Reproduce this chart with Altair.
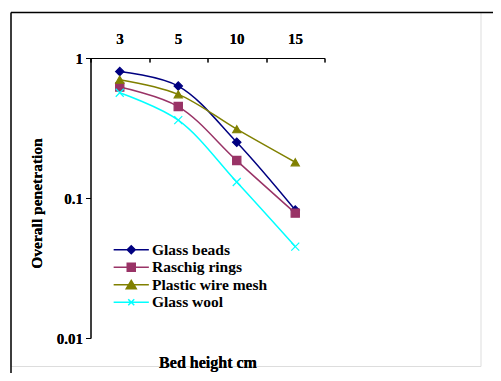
import altair as alt
import pandas as pd

heights = ["3", "5", "10", "15"]
series = ["Glass beads", "Raschig rings", "Plastic wire mesh", "Glass wool"]
glass_beads = [0.80, 0.63, 0.25, 0.082]
raschig_rings = [0.62, 0.45, 0.185, 0.078]
plastic_wire_mesh = [0.70, 0.55, 0.31, 0.18]
glass_wool = [0.565, 0.36, 0.13, 0.045]

colors = ["#000080", "#993366", "#808000", "#00FFFF"]
marker_shapes = ["diamond", "square", "triangle-up", "M-1,-1L1,1M-1,1L1,-1"]
marker_sizes = [70, 64, 100, 40]
legend_shapes = [
    "M-4.4,0L4.4,0M0,-1L1,0L0,1L-1,0Z",
    "M-4.4,0L4.4,0M-1,-1L1,-1L1,1L-1,1Z",
    "M-4.4,0L4.4,0M0,-1.1L1.25,1L-1.25,1Z",
    "M-4.4,0L4.4,0M-0.75,-0.75L0.75,0.75M-0.75,0.75L0.75,-0.75",
]

rows = []
for s, vals in zip(series, [glass_beads, raschig_rings, plastic_wire_mesh, glass_wool]):
    for i, (h, v) in enumerate(zip(heights, vals)):
        rows.append({"series": s, "lg": s, "pos": i + 0.5, "height": h, "value": v})
df = pd.DataFrame(rows)

FONT = "Liberation Serif"
W, H = 470, 354
label_expr = "[" + ",".join("'%s'" % h for h in heights) + ",''][datum.value]"

x_enc = alt.X(
    "pos:Q",
    scale=alt.Scale(domain=[0, len(heights)], range=[80, 314], nice=False, zero=False),
    axis=alt.Axis(
        orient="bottom", offset=46 - H, values=list(range(len(heights) + 1)),
        labelExpr=label_expr, labelOffset=29, labelBaseline="middle",
        labelPadding=-24, tickSize=4, labelOverlap=False, labelFlush=False,
        grid=False, domainColor="black", tickColor="black",
        labelFont=FONT, labelFontWeight="bold", labelFontSize=15, labelColor="black",
        title="Bed height cm", titleFont=FONT, titleFontWeight="bold", titleFontSize=16,
        titleColor="black", titleX=197, titleY=304, titleBaseline="middle",
        titleAlign="center",
    ),
)
y_enc = alt.Y(
    "value:Q",
    scale=alt.Scale(type="log", domain=[0.01, 1], range=[326, 46], nice=False),
    axis=alt.Axis(
        orient="left", offset=-80, values=[0.01, 0.1, 1], format=".2~f",
        tickSize=5, labelPadding=3, grid=False, domainColor="black", tickColor="black",
        labelFont=FONT, labelFontWeight="bold", labelFontSize=15, labelColor="black",
        title="Overall penetration", titleFont=FONT, titleFontWeight="bold",
        titleFontSize=15.5, titleColor="black", titleX=-54, titleY=191,
        titleBaseline="middle", titleAlign="center", titleAngle=270,
    ),
)

lines = alt.Chart(df).mark_line(interpolate="catmull-rom", strokeWidth=1.5).encode(
    x=x_enc, y=y_enc,
    color=alt.Color("series:N", scale=alt.Scale(domain=series, range=colors), legend=None),
    detail="series:N",
)

points = alt.Chart(df).mark_point(filled=True, opacity=1, strokeWidth=1.2).encode(
    x=x_enc, y=y_enc,
    fill=alt.Fill("series:N", scale=alt.Scale(domain=series, range=colors), legend=None),
    stroke=alt.Stroke("series:N", scale=alt.Scale(domain=series, range=colors), legend=None),
    shape=alt.Shape("series:N", scale=alt.Scale(domain=series, range=marker_shapes), legend=None),
    size=alt.Size("series:N", scale=alt.Scale(domain=series, range=marker_sizes), legend=None),
)

legend_cfg = dict(
    title=None, orient="none", legendX=113, legendY=230,
    symbolSize=64, symbolStrokeWidth=1.5, symbolOpacity=1,
    labelFont=FONT, labelFontWeight="bold", labelFontSize=15.5, labelColor="black",
    labelOffset=13, rowPadding=0.5, padding=0, labelLimit=300,
)
legend_layer = alt.Chart(df).transform_filter("false").mark_point(filled=True).encode(
    fill=alt.Fill("lg:N", scale=alt.Scale(domain=series, range=colors), legend=alt.Legend(**legend_cfg)),
    stroke=alt.Stroke("lg:N", scale=alt.Scale(domain=series, range=colors), legend=alt.Legend(**legend_cfg)),
    shape=alt.Shape("lg:N", scale=alt.Scale(domain=series, range=legend_shapes), legend=alt.Legend(**legend_cfg)),
)

frame_axis = dict(ticks=False, labels=False, grid=False, title=None, domainWidth=1.5,
                  domainColor="black", offset=0)
frame = alt.Chart(df).transform_filter("false").mark_point().encode(
    x=alt.X("pos:Q", scale=alt.Scale(domain=[0, 1], range=[0, W + 40], nice=False, zero=False),
            axis=alt.Axis(orient="top", **frame_axis)),
    y=alt.Y("value:Q", scale=alt.Scale(domain=[0, 1], range=[H + 30, 0], nice=False, zero=False),
            axis=alt.Axis(orient="left", **frame_axis)),
)

chart = alt.layer(lines, points, legend_layer, frame).resolve_scale(
    fill="independent", stroke="independent", shape="independent", color="independent",
    x="independent", y="independent",
).properties(
    width=W, height=H,
    padding={"left": 2.5, "top": 4, "right": 12, "bottom": 7},
    autosize=alt.AutoSizeParams(type="none"),
).configure_view(stroke="transparent", strokeWidth=0).configure(background="white")

chart.save("out.html", embed_options={"renderer": "svg", "actions": False})
